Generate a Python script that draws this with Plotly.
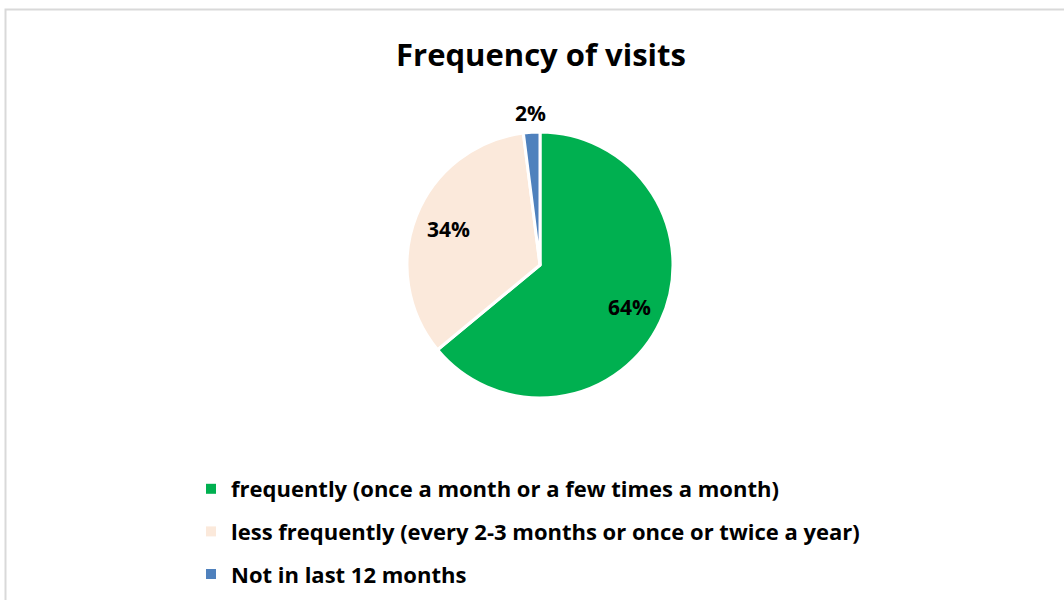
import math
import plotly.graph_objects as go

categories = [
    "frequently (once a month or a few times a month)",
    "less frequently (every 2-3 months or once or twice a year)",
    "Not in last 12 months",
]
values = [64, 34, 2]
colors = ["#00B050", "#FBE9DB", "#4F81BD"]
label_positions = ["inside", "inside", "outside"]
title_text = "Frequency of visits"

W, H = 1064, 600
FONT = "Open Sans"

fig = go.Figure()

# pie geometry (pixels)
cx, cy, r = 540, 265, 133
fig.add_trace(go.Pie(
    labels=categories,
    values=values,
    marker=dict(colors=colors, line=dict(color="white", width=3)),
    sort=False,
    direction="clockwise",
    rotation=0,
    textinfo="none",
    showlegend=False,
    hoverinfo="label+percent",
    domain=dict(x=[(cx - r) / W, (cx + r) / W], y=[(H - cy - r) / H, (H - cy + r) / H]),
))

# data labels placed at each slice's mid-angle
total = sum(values)
cum = 0
annotations = []
for v, pos in zip(values, label_positions):
    mid = (cum + v / 2) / total * 2 * math.pi
    cum += v
    f = 0.74 if pos == "inside" else 1.145
    px = cx + f * r * math.sin(mid)
    py = cy - f * r * math.cos(mid)
    annotations.append(dict(
        x=px / W, y=1 - py / H, xref="paper", yref="paper",
        text=f"{round(v / total * 100)}%", showarrow=False,
        xanchor="center", yanchor="middle",
        font=dict(family=FONT, size=21, color="black", weight="bold"),
    ))

# legend entries
for name, col in zip(categories, colors):
    fig.add_trace(go.Scatter(
        x=[None], y=[None], mode="markers", name=name,
        marker=dict(symbol="square", size=10, color=col),
        legendgroup=name,
    ))

fig.update_layout(
    width=W, height=H,
    margin=dict(l=0, r=0, t=0, b=0),
    paper_bgcolor="white", plot_bgcolor="white",
    title=dict(text=title_text, x=541 / W, xanchor="center", y=1 - 55 / H, yanchor="middle",
               font=dict(family=FONT, size=31, color="black", weight="bold")),
    xaxis=dict(visible=False), yaxis=dict(visible=False),
    legend=dict(x=191 / W, xanchor="left", y=1 - 468 / H, yanchor="top",
                font=dict(family=FONT, size=22, color="black", weight="bold"),
                tracegroupgap=11, bgcolor="rgba(0,0,0,0)"),
    annotations=annotations,
    shapes=[dict(type="rect", xref="paper", yref="paper",
                 x0=5.5 / W, x1=1080 / W, y0=-20 / H, y1=1 - 9.5 / H,
                 line=dict(color="#D9D9D9", width=2), layer="below")],
)

fig.write_html("out.html", config={"displayModeBar": False},
               post_script="document.body.style.margin='0';document.body.style.overflow='hidden';")
